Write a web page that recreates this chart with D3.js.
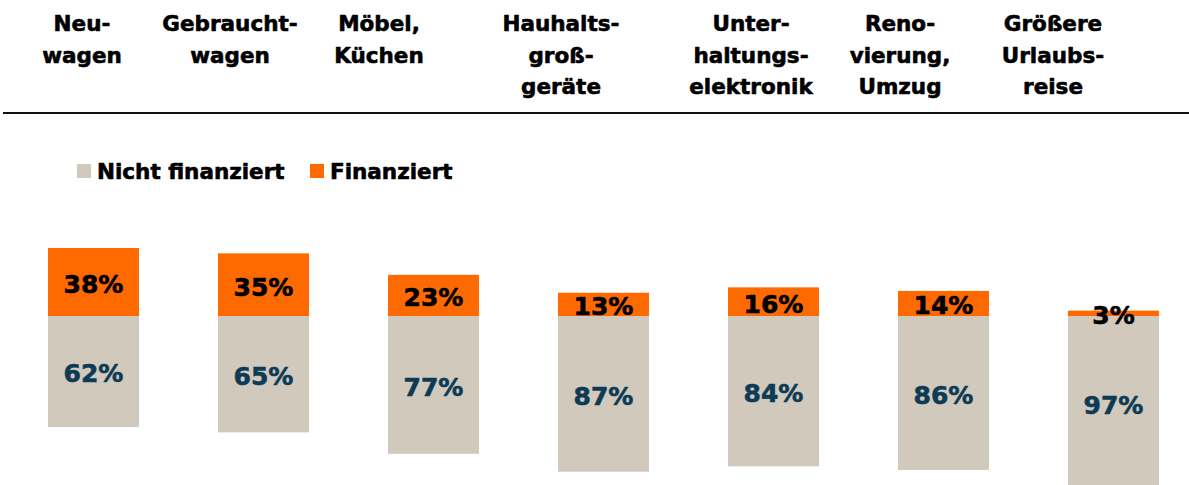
<!DOCTYPE html>
<html>
<head>
<meta charset="utf-8">
<script src="https://cdn.jsdelivr.net/npm/d3@7"></script>
<style>
  html, body { margin: 0; padding: 0; background: #fff; }
  svg { display: block; font-family: "DejaVu Sans", Verdana, sans-serif; font-weight: bold; }
  .heavy { stroke-width: 0.6px; stroke-linejoin: round; }
</style>
</head>
<body>
<svg id="chart" width="1189" height="485"></svg>
<script>
(function () {
    'use strict';

    // data
    const categories = ["Neuwagen", "Gebrauchtwagen", "Möbel, Küchen", "Haushaltsgroßgeräte",
        "Unterhaltungselektronik", "Renovierung, Umzug", "Größere Urlaubsreise"];
    const headerLines = [
        ["Neu-", "wagen"],
        ["Gebraucht-", "wagen"],
        ["Möbel,", "Küchen"],
        ["Hauhalts-", "groß-", "geräte"],
        ["Unter-", "haltungs-", "elektronik"],
        ["Reno-", "vierung,", "Umzug"],
        ["Größere", "Urlaubs-", "reise"]
    ];
    const finanziert = [38, 35, 23, 13, 16, 14, 3];
    const nichtFinanziert = [62, 65, 77, 87, 84, 86, 97];
    const seriesNames = ["Nicht finanziert", "Finanziert"];

    // layout
    const width = 1189;
    const headerX = [82, 230, 379, 561, 751, 900, 1053];
    const colors = { nicht: "#d1c9bc", fin: "#ff6a00", valNicht: "#0d3b55" };

    const svg = d3.select("#chart");

    const x = d3.scaleBand()
        .domain(categories)
        .range([8.5, 1198.5])
        .paddingInner(0.465)
        .paddingOuter(0.2325);

    // 0 sits on the common split line, finanziert goes up, nicht finanziert down
    const y = d3.scaleLinear()
        .domain([-100, 100])
        .range([316 + 179, 316 - 179]);

    // header labels
    const head = svg.append("g")
        .attr("class", "heavy")
        .attr("font-size", 21.5)
        .attr("text-anchor", "middle")
        .attr("fill", "#000")
        .attr("stroke", "#000");
    head.selectAll("text")
        .data(headerLines)
        .join("text")
        .attr("x", (d, i) => headerX[i])
        .attr("y", 31)
        .selectAll("tspan")
        .data((d, i) => d.map(t => ({ t, i })))
        .join("tspan")
        .attr("x", d => headerX[d.i])
        .attr("dy", (d, j) => j === 0 ? 0 : 31.5)
        .text(d => d.t);

    svg.append("line")
        .attr("x1", 3).attr("x2", width)
        .attr("y1", 113).attr("y2", 113)
        .attr("stroke", "#111")
        .attr("stroke-width", 2);

    // legend
    const legend = svg.append("g")
        .attr("class", "heavy")
        .attr("font-size", 21.5)
        .attr("stroke", "#000");
    const legendItems = [
        { name: seriesNames[0], color: colors.nicht, x: 77 },
        { name: seriesNames[1], color: colors.fin, x: 310 }
    ];
    legendItems.forEach(d => {
        legend.append("rect")
            .attr("x", d.x).attr("y", 164)
            .attr("width", 14).attr("height", 14)
            .attr("stroke", "none")
            .attr("fill", d.color);
        legend.append("text")
            .attr("x", d.x + 20).attr("y", 179)
            .text(d.name);
    });

    // bars
    const bars = svg.append("g")
        .selectAll("g")
        .data(categories.map((c, i) => ({ c, fin: finanziert[i], nicht: nichtFinanziert[i] })))
        .join("g");

    bars.append("rect")
        .attr("x", d => x(d.c))
        .attr("width", x.bandwidth())
        .attr("y", y(0))
        .attr("height", d => y(-d.nicht) - y(0))
        .attr("fill", colors.nicht);

    bars.append("rect")
        .attr("x", d => x(d.c))
        .attr("width", x.bandwidth())
        .attr("y", d => y(d.fin))
        .attr("height", d => y(0) - y(d.fin))
        .attr("fill", colors.fin);

    bars.append("text")
        .attr("class", "heavy")
        .attr("x", d => x(d.c) + x.bandwidth() / 2)
        .attr("y", d => (y(0) + y(-d.nicht)) / 2 + 2)
        .attr("dy", "0.36em")
        .attr("text-anchor", "middle")
        .attr("font-size", 25)
        .attr("fill", colors.valNicht)
        .attr("stroke", colors.valNicht)
        .text(d => d.nicht + "%");

    bars.append("text")
        .attr("class", "heavy")
        .attr("x", d => x(d.c) + x.bandwidth() / 2)
        .attr("y", d => (y(0) + y(d.fin)) / 2 + 2)
        .attr("dy", "0.36em")
        .attr("text-anchor", "middle")
        .attr("font-size", 25)
        .attr("fill", "#000")
        .attr("stroke", "#000")
        .text(d => d.fin + "%");
}());
</script>
</body>
</html>
